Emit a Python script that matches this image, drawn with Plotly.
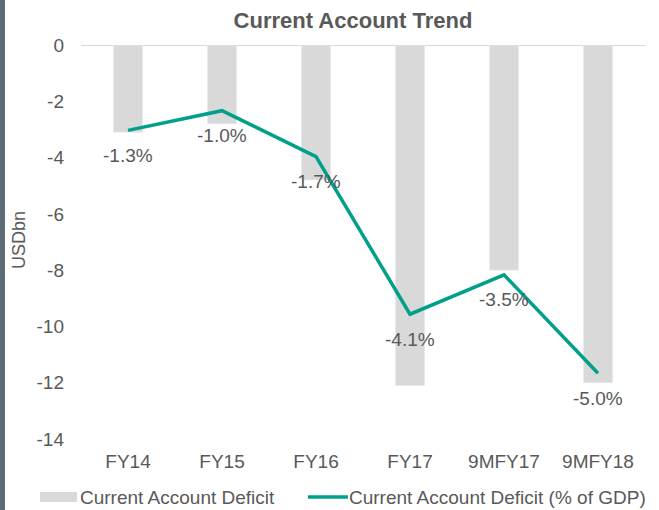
import plotly.graph_objects as go

categories = ["FY14", "FY15", "FY16", "FY17", "9MFY17", "9MFY18"]
deficit_usdbn = [-3.1, -2.8, -4.8, -12.1, -8.0, -12.0]
deficit_pct_gdp = [-1.3, -1.0, -1.7, -4.1, -3.5, -5.0]
pct_labels = ["-1.3%", "-1.0%", "-1.7%", "-4.1%", "-3.5%", "-5.0%"]
y_ticks = [0, -2, -4, -6, -8, -10, -12, -14]
y_tick_labels = ["0", "-2", "-4", "-6", "-8", "-10", "-12", "-14"]

W, H = 659, 510
L, R, T, B = 81, 14, 45, 71
PW, PH = W - L - R, H - T - B

def px_x(px):
    return (px - L) / PW

def px_y(py):
    return (H - B - py) / PH

TXT = "#595959"
BAR = "#d9d9d9"
LINE = "#00a08a"
FONT = "Liberation Sans, Arial, sans-serif"
FS = 19

fig = go.Figure()
fig.add_trace(go.Bar(x=categories, y=deficit_usdbn, marker_color=BAR, width=0.31,
                     name="Current Account Deficit", showlegend=False, yaxis="y"))
fig.add_trace(go.Scatter(x=categories, y=deficit_pct_gdp, mode="lines",
                         line=dict(color=LINE, width=3.5),
                         name="Current Account Deficit (% of GDP)", showlegend=False, yaxis="y2"))

annotations = []
for c, v, t in zip(categories, deficit_pct_gdp, pct_labels):
    annotations.append(dict(x=c, y=v, xref="x", yref="y2", text=t, showarrow=False,
                            yshift=-25, font=dict(size=FS, color=TXT, family=FONT)))

# y-axis title
annotations.append(dict(x=px_x(19), y=px_y(240), xref="paper", yref="paper", text="USDbn",
                        textangle=-90, showarrow=False, xanchor="center", yanchor="middle",
                        font=dict(size=18, color=TXT, family=FONT)))
# manual legend texts
annotations.append(dict(x=px_x(78), y=px_y(497), xref="paper", yref="paper",
                        text="Current Account Deficit", showarrow=False,
                        xanchor="left", yanchor="middle",
                        font=dict(size=FS, color=TXT, family=FONT)))
annotations.append(dict(x=px_x(347), y=px_y(497), xref="paper", yref="paper",
                        text="Current Account Deficit (% of GDP)", showarrow=False,
                        xanchor="left", yanchor="middle",
                        font=dict(size=FS, color=TXT, family=FONT)))

shapes = [
    dict(type="line", xref="paper", yref="y", x0=0, x1=1, y0=0, y1=0,
         line=dict(color=BAR, width=2), layer="below"),
    dict(type="rect", xref="paper", yref="paper", x0=px_x(40), x1=px_x(77),
         y0=px_y(502), y1=px_y(492), fillcolor=BAR, line=dict(width=0)),
    dict(type="line", xref="paper", yref="paper", x0=px_x(308), x1=px_x(348),
         y0=px_y(497), y1=px_y(497), line=dict(color=LINE, width=3.5)),
    dict(type="rect", xref="paper", yref="paper", x0=px_x(0), x1=px_x(5),
         y0=px_y(H), y1=px_y(0), fillcolor="#5f6b75", line=dict(width=0)),
]

fig.update_layout(
    width=W, height=H,
    margin=dict(l=L, r=R, t=T, b=B),
    paper_bgcolor="white", plot_bgcolor="white",
    font=dict(family=FONT, size=FS, color=TXT),
    title=dict(text="<b>Current Account Trend</b>", x=353 / W, xref="container", xanchor="center",
               y=1 - 20 / H, yref="container", yanchor="middle",
               font=dict(size=22, color=TXT, family=FONT)),
    bargap=0.69,
    showlegend=False,
    xaxis=dict(showgrid=False, showline=False, zeroline=False, ticks="",
               tickfont=dict(size=FS, color=TXT), ticklabelstandoff=9),
    yaxis=dict(range=[-14, 0], tickvals=y_ticks, ticktext=y_tick_labels,
               showgrid=False, zeroline=False,
               showline=False, ticks="", tickfont=dict(size=FS, color=TXT),
               ticklabelstandoff=16),
    yaxis2=dict(range=[-6, 0], overlaying="y", side="right", visible=False),
    annotations=annotations,
    shapes=shapes,
)

fig.write_html("out.html", config={"displayModeBar": False},
               post_script="document.body.style.margin='0';")
